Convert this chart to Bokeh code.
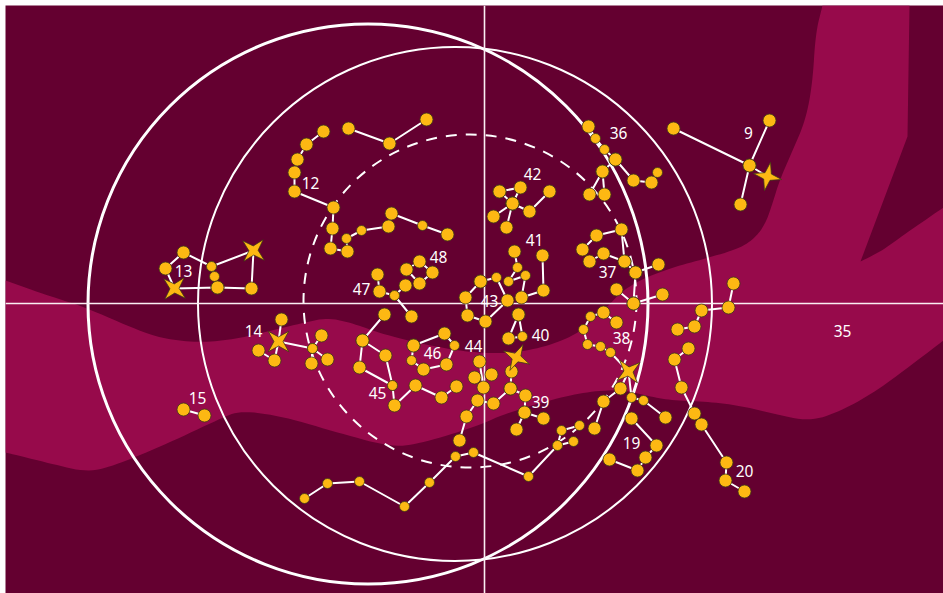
import math
from bokeh.plotting import figure
from bokeh.models import Range1d
from bokeh.core.properties import value
from bokeh.embed import file_html
from bokeh.resources import INLINE

# ---- data (sky-map units, y grows downward) ----
mw_top_left = [(5,280),(50,296),(83,306),(140,331),(167,339),(200,342),(233,339),(267,331),(300,323),(327,317),
               (353,323),(383,334),(433,346),(472,352),(505,353),(539,348),(572,336),(589,323),(610,303),(622,290),
               (645,277),(672,267),(705,258),(739,248),(755,237),(765,223),(772,203),(779,180),(792,150),(805,120),
               (812,83),(815,33),(822,5)]
mw_top_right = [(909,5),(907,136),(860,261)]
mw_notch = [(860,261),(882,250),(905,233),(943,207)]
mw_bottom = [(943,340),(905,369),(872,393),(839,411),(809,421),(772,413),(739,405),(705,401),(672,400),(649,396),
             (622,389),(589,391),(555,398),(505,413),(473,427),(423,442),(393,447),(340,433),(283,416),(240,410),
             (220,418),(167,443),(117,464),(87,472),(50,463),(5,452)]

rings = [(367.5,303.5,280,3,"solid"),(454.5,303.5,257,2,"solid"),(469.5,300.5,166.5,2,"11 9")]
cross_x = 484
cross_y = 303

group_12 = [[(323,131),(306,144),(297,159),(294,172),(294,191),(333,207),(332,228),(330,248),(347,251),(346,238),
             (361,230),(388,226),(391,213),(422,225),(447,234)]]
group_line = [[(348,128),(389,143),(426,119)]]
group_13 = [[(174,288),(165,268),(183,252),(211,266),(253,250),(251,288),(217,287),(174,288)],
            [(211,266),(214,276),(217,287)]]
group_14 = [[(281,319),(278,341),(274,360),(258,350)],[(278,341),(312,348),(321,335)],
            [(312,348),(327,359)],[(312,348),(311,363)]]
group_15 = [[(183,409),(204,415)]]
group_45 = [[(384,314),(362,340),(385,355),(392,385),(394,405),(415,385),(441,397),(456,386)],
            [(362,340),(359,367),(392,385)]]
group_46 = [[(413,345),(444,333),(454,345),(446,364),(423,369),(411,360),(413,345)]]
group_47 = [[(377,274),(379,291),(394,295),(411,316)],[(394,295),(405,285)]]
group_48 = [[(406,269),(419,261),(432,272),(419,283),(406,269)]]
group_43 = [[(480,281),(496,277),(507,300),(485,321),(467,315),(465,297),(480,281)]]
group_41 = [[(514,251),(517,267),(508,281),(525,275),(521,297),(543,290),(542,255)]]
group_40 = [[(518,314),(508,338),(522,336),(518,314)]]
group_42 = [[(499,191),(520,187),(512,203),(499,191)],[(512,203),(493,216)],[(512,203),(506,227)],
            [(512,203),(529,211),(549,191)]]
group_36 = [[(588,126),(595,138),(604,149),(615,159),(633,180),(651,182),(657,172)],
            [(615,159),(602,171),(589,194)],[(602,171),(604,194)]]
group_9 = [[(673,128),(749,165),(767,176)],[(769,120),(749,165),(740,204)]]
group_37 = [[(582,249),(596,235),(621,229),(624,261),(635,272),(658,264)],
            [(589,261),(603,253),(624,261)],[(635,272),(633,303),(616,289)],[(633,303),(662,294)]]
group_38 = [[(616,322),(603,312),(590,316),(583,329),(587,344),(600,346),(610,352),(628,371),(620,388),(603,401),(594,428)],
            [(628,371),(631,397),(643,400),(665,417)]]
group_19 = [[(631,418),(656,445),(645,457),(637,470),(609,459)]]
group_35a = [[(733,283),(728,307),(701,310),(694,326),(677,329)]]
group_20 = [[(688,348),(674,359),(681,387),(694,413),(701,424),(726,462),(725,480),(744,491)]]
group_lower = [[(304,498),(327,483),(359,481),(404,506),(429,482),(455,456),(473,452),(528,476),(557,445),(561,430),(579,425)],
               [(557,445),(573,441)]]
group_44 = [[(479,361),(483,387)],[(474,377)],[(491,374)],[(459,440),(466,416),(477,400),(493,403),(510,388),(511,371),(516,357)],
            [(510,388),(525,395),(524,412),(543,418)],[(524,412),(516,429)]]

groups = [group_12,group_line,group_13,group_14,group_15,group_45,group_46,group_47,group_48,group_43,group_41,
          group_40,group_42,group_36,group_9,group_37,group_38,group_19,group_35a,group_20,group_lower,group_44]

small_stars = {(211,266),(214,276),(346,238),(361,230),(422,225),(595,138),(604,149),(657,172),(517,267),(496,277),
               (508,281),(525,275),(522,336),(454,345),(411,360),(392,385),(394,295),(590,316),(583,329),(587,344),
               (600,346),(610,352),(631,397),(643,400),(304,498),(327,483),(359,481),(404,506),(429,482),(455,456),
               (473,452),(528,476),(557,445),(561,430),(579,425),(573,441),(312,348)}
# variable stars: x, y, rotation in degrees
special_x = [253,174,278,516,628,767]
special_y = [250,288,341,357,371,176]
special_rot = [42,42,45,27,52,12]

label_text = ["9","12","13","14","15","19","20","35","36","37","38","39","40","41","42","43","44","45","46","47","48"]
label_x = [748,310,183,253,197,631,744,842,618,607,621,540,540,534,532,489,473,377,432,361,438]
label_y = [132,182,270,330,397,442,470,330,132,271,337,401,334,239,173,300,345,392,352,288,256]

# ---- style ----
DARK = "#640030"
BAND = "#970a4b"
GOLD = "#fdb813"
EDGE = "#3f3a16"

def chaikin(points, n=3):
    pts = list(points)
    for _ in range(n):
        out = [pts[0]]
        for a, b in zip(pts[:-1], pts[1:]):
            out.append((0.75*a[0]+0.25*b[0], 0.75*a[1]+0.25*b[1]))
            out.append((0.25*a[0]+0.75*b[0], 0.25*a[1]+0.75*b[1]))
        out.append(pts[-1])
        pts = out
    return pts

p = figure(width=938, height=588, output_backend="svg", toolbar_location=None,
           x_range=Range1d(5,943), y_range=Range1d(593,5), x_axis_type=None, y_axis_type=None,
           min_border=0, outline_line_color=None, margin=(5,0,0,5))
p.grid.visible = False
p.background_fill_color = DARK
p.border_fill_color = DARK

band = chaikin(mw_top_left) + mw_top_right + chaikin(mw_notch) + chaikin(mw_bottom)
p.patch([q[0] for q in band],[q[1] for q in band], fill_color=BAND, line_color=None)

for cx, cy, r, w, dash in rings:
    p.circle([cx],[cy], radius=r, fill_color=None, line_color="white", line_width=w, line_dash=dash)

p.line([5,943],[cross_y,cross_y], line_color="#fbeef3", line_width=1.6)
p.line([cross_x,cross_x],[5,593], line_color="#fbeef3", line_width=1.6)

sx, sy, ss = [], [], []
special = set(zip(special_x, special_y))
for g in groups:
    for poly in g:
        if len(poly) > 1:
            p.line([q[0] for q in poly],[q[1] for q in poly], line_color="white", line_width=2)
        for q in poly:
            if q in special:
                continue
            sx.append(q[0]); sy.append(q[1]); ss.append(10 if q in small_stars else 13)
p.scatter(sx, sy, size=ss, marker="circle", fill_color=GOLD, line_color=EDGE, line_width=0.8)

xs, ys = [], []
for cx, cy, rot in zip(special_x, special_y, special_rot):
    px, py = [], []
    for i in range(8):
        rad = 14.5 if i % 2 == 0 else 4.6
        a = math.radians(rot + i*45)
        px.append(cx + rad*math.sin(a)); py.append(cy - rad*math.cos(a))
    xs.append(px); ys.append(py)
p.patches(xs, ys, fill_color=GOLD, line_color=EDGE, line_width=0.8)

p.text(label_x, label_y, text=label_text, text_color="white", text_font=value("Noto Sans"),
       text_font_size="15.5px", text_align="center", text_baseline="middle")

open("out.html","w").write(file_html(p, INLINE))
